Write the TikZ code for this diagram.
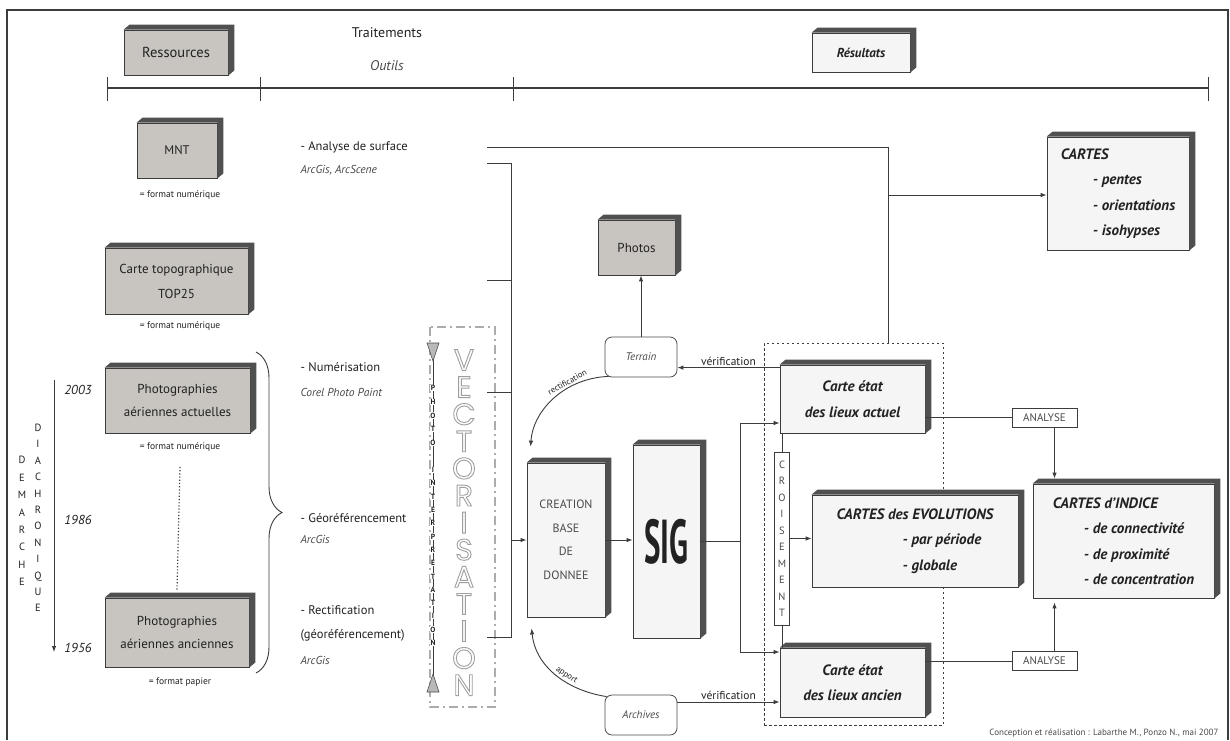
\documentclass[tikz,border=0pt]{standalone}
\usepackage{fontspec}
\usepackage{graphicx}
\setmainfont{PT Sans}
\newfontfamily\geofont{Poppins}
\usetikzlibrary{arrows.meta,decorations.pathreplacing}
\definecolor{boxgray}{HTML}{C8C4C0}
\definecolor{extr}{HTML}{505050}
\definecolor{boxwhite}{HTML}{F5F5F5}
\definecolor{linec}{HTML}{3C3C3C}
\definecolor{txt}{HTML}{222222}
\definecolor{soft}{HTML}{4A4A4A}
\newcommand{\extrude}[1]{\fill[extr] (#1.north west) -- ([shift={(6,-5)}]#1.north west) -- ([shift={(6,-5)}]#1.north east) -- ([shift={(6,-5)}]#1.south east) -- (#1.south east) -- (#1.north east) -- cycle;}
\newcommand{\outl}[1]{\special{pdf:literal direct 1 Tr 0.9 w}#1\special{pdf:literal direct 0 Tr}}
\tikzset{
  boxface/.style={draw=linec, line width=0.8pt, inner sep=0pt, align=center, text=txt},
  gbox/.style={boxface, fill=boxgray},
  wbox/.style={boxface, fill=boxwhite},
  ln/.style={draw=linec, line width=0.9pt},
  arr/.style={ln, -{Latex[length=6pt,width=4.5pt]}},
  rbox/.style={draw=soft, rounded corners=7pt, line width=0.8pt, fill=white, minimum width=72pt, minimum height=40pt, font=\fontsize{11}{13}\selectfont\itshape, text=soft},
  rtext/.style={font=\fontsize{15}{25.5}\selectfont\bfseries\itshape},
  fmt/.style={font=\fontsize{9.5}{11}\selectfont, text=txt},
  trt/.style={anchor=west, font=\fontsize{12.5}{14}\selectfont, text=txt},
  tool/.style={anchor=west, font=\fontsize{11.5}{14}\selectfont\itshape, text=soft},
  year/.style={font=\fontsize{13}{15}\selectfont\itshape, text=txt},
  lbl/.style={font=\fontsize{11.5}{13}\selectfont, text=txt, inner sep=1.5pt},
  smalllbl/.style={font=\fontsize{8.5}{9}\selectfont, text=txt, inner sep=0.5pt},
  stack/.style={align=center, inner sep=0pt, text=txt},
  anbox/.style={draw=linec, line width=0.7pt, fill=white, inner sep=1.5pt, minimum width=65pt, minimum height=19pt, font=\fontsize{11}{12}\selectfont, text=soft},
}
\begin{document}
\begin{tikzpicture}[x=1pt,y=-1pt]
\useasboundingbox (0,0) rectangle (1230,740);
\fill[white] (0,0) rectangle (1230,740);
% frame
\draw[linec, line width=1.5pt] (7,740) -- (7,10) -- (1228,10) -- (1228,740);

% header
\node[gbox, minimum width=104pt, minimum height=45pt, font=\fontsize{14.5}{16}\selectfont] (res) at (176,52.5) {Ressources};
\extrude{res}
\node[font=\fontsize{14}{16}\selectfont, text=txt] (trait) at (387,33) {Traitements};
\node[font=\fontsize{14}{16}\selectfont\itshape, text=soft] (outils) at (387,66) {Outils};
\node[wbox, minimum width=98pt, minimum height=39pt, font=\fontsize{13}{15}\selectfont\bfseries\itshape] (resul) at (861,52.5) {Résultats};
\extrude{resul}
\coordinate (t0) at (107,88); \coordinate (t1) at (260,88); \coordinate (t2) at (513,88); \coordinate (t3) at (1208,88);
\draw[ln, line width=1.3pt] (t0) -- (t3);
\foreach \t in {t0,t1,t2,t3} \draw[ln] ([shift={(0,-11)}]\t) -- ([shift={(0,13)}]\t);

% resources column
\node[gbox, minimum width=80pt, minimum height=55pt, font=\fontsize{12.5}{14}\selectfont] (mnt) at (177,150.5) {MNT};
\extrude{mnt}
\node[fmt] (f1) at (180,195) {= format numérique};
\node[gbox, minimum width=143pt, minimum height=66pt, font=\fontsize{13}{25}\selectfont] (top) at (176.5,281) {Carte topographique\\TOP25};
\extrude{top}
\node[fmt] (f2) at (180,326) {= format numérique};
\node[gbox, minimum width=145pt, minimum height=65pt, font=\fontsize{13}{23}\selectfont] (pact) at (177.5,400.5) {Photographies\\aériennes actuelles};
\extrude{pact}
\node[fmt] (f3) at (180,447) {= format numérique};
\node[gbox, minimum width=144pt, minimum height=69pt, font=\fontsize{13}{23}\selectfont] (panc) at (177,632.5) {Photographies\\aériennes anciennes};
\extrude{panc}
\node[fmt] (f4) at (180,682) {= format papier};
\draw[linec, line width=1.2pt, dotted] ([shift={(0,12)}]f3.south) -- ([shift={(0,-8)}]panc.north);
\draw[ln, decorate, decoration={brace, amplitude=26pt}] (256,352) -- (256,673);

% diachronic timeline
\coordinate (ya) at (54,380); \coordinate (yb) at (54,652);
\draw[arr] (ya) -- (yb);
\node[year] (y1) at (78,390) {2003};
\node[year] (y2) at (78,520) {1986};
\node[year] (y3) at (78,648) {1956};
\node[stack, font=\fontsize{10.5}{17.4}\selectfont] (dem) at (22,521) {D\\E\\M\\A\\R\\C\\H\\E};
\node[stack, font=\fontsize{10.5}{16.4}\selectfont] (dia) at (38,518) {D\\I\\A\\C\\H\\R\\O\\N\\I\\Q\\U\\E};

% treatments column
\node[trt] (m1) at (297,147) {- Analyse de surface};
\node[tool] (m1t) at (297,170) {ArcGis, ArcScene};
\node[trt] (m2) at (297,367) {- Numérisation};
\node[tool] (m2t) at (297,392) {Corel Photo Paint};
\node[trt] (m3) at (297,518) {- Géoréférencement};
\node[tool] (m3t) at (297,539) {ArcGis};
\node[trt] (m4) at (297,610) {- Rectification};
\node[trt] (m4b) at (297,635) {(géoréférencement)};
\node[tool] (m4t) at (297,660) {ArcGis};

% vectorisation
\draw[gray!65, line width=1.4pt, dash pattern=on 9pt off 4pt on 2pt off 4pt] (430,327) rectangle (495,707);
\foreach \l [count=\i from 0] in {V,E,C,T,O,R,I,S,A,T,I,O,N}
  \node[font=\geofont\fontsize{30}{30}\selectfont, text=gray!75, inner sep=0pt] (vec\i) at (464,{360+27.1*\i}) {\outl{\l}};
\coordinate (pit) at (433,352); \coordinate (pib) at (433,683);
\draw[ln, line width=0.8pt] (pit) -- (pib);
\filldraw[fill=gray!55, draw=soft, line width=0.6pt] (427,343) -- (439,343) -- (433,361) -- cycle;
\filldraw[fill=gray!55, draw=soft, line width=0.6pt] (427,692) -- (439,692) -- (433,674) -- cycle;
\foreach \l [count=\i from 0] in {P,H,O,T,O}
  \node[font=\fontsize{7.5}{8}\selectfont\bfseries, fill=white, inner sep=0.4pt, text=txt] (ph\i) at (433,{388+13.7*\i}) {\l};
\foreach \l [count=\i from 0] in {I,N,T,E,R,P,R,E,T,A,T,I,O,N}
  \node[font=\fontsize{7.5}{8}\selectfont\bfseries, fill=white, inner sep=0.4pt, text=txt] (in\i) at (433,{470+13.3*\i}) {\l};

% central
\node[gbox, minimum width=77pt, minimum height=55pt, font=\fontsize{13}{15}\selectfont] (photos) at (636.5,247.5) {Photos};
\extrude{photos}
\node[rbox] (terrain) at (641,357) {Terrain};
\node[wbox, minimum width=78pt, minimum height=154pt, font=\fontsize{12}{23.5}\selectfont, text=soft] (crea) at (566,540) {CREATION\\BASE\\DE\\DONNEE};
\extrude{crea}
\node[wbox, minimum width=67pt, minimum height=193pt] (sig) at (666.5,541.5) {\scalebox{0.5}[1]{\fontsize{62}{62}\selectfont\bfseries SIG}};
\extrude{sig}
\node[rbox] (arch) at (641,715) {Archives};

% results
\node[draw=linec, line width=1pt, dash pattern=on 2.5pt off 2.5pt, minimum width=179pt, minimum height=382pt, inner sep=0pt] (dbox) at (853.5,534) {};
\node[wbox, rtext, minimum width=145pt, minimum height=68pt] (act) at (852.5,399) {Carte état\\des lieux actuel};
\extrude{act}
\node[wbox, rtext, minimum width=145pt, minimum height=69pt] (anc) at (852.5,682.5) {Carte état\\des lieux ancien};
\extrude{anc}
\node[boxface, fill=white, minimum width=15pt, minimum height=173pt, font=\fontsize{10.5}{16.5}\selectfont, text=soft] (crois) at (782,538.5) {C\\R\\O\\I\\S\\E\\M\\E\\N\\T};
\node[wbox, rtext, minimum width=206pt, minimum height=92pt, align=left] (evol) at (915,541) {CARTES des EVOLUTIONS\\\hspace*{66pt}- par période\\\hspace*{66pt}- globale};
\extrude{evol}
\node[wbox, rtext, minimum width=181pt, minimum height=114pt, align=left] (ind) at (1123.5,541) {CARTES d'INDICE\\\hspace*{31pt}- de connectivité\\\hspace*{31pt}- de proximité\\\hspace*{31pt}- de concentration};
\extrude{ind}
\node[wbox, rtext, minimum width=142pt, minimum height=113pt, align=left] (cartes) at (1118,193.5) {CARTES\\\hspace*{32pt}- pentes\\\hspace*{32pt}- orientations\\\hspace*{32pt}- isohypses};
\extrude{cartes}
\node[anbox] (an1) at (1044.5,417.5) {ANALYSE};
\node[anbox] (an2) at (1044.5,661) {ANALYSE};

% connectors
\coordinate (sa) at (487,147); \coordinate (bend) at (888,147); \coordinate (dtop) at (888,343); \coordinate (cj) at (888,195);
\draw[ln] (sa) -- (bend) -- (dtop);
\draw[arr] (cj) -- (cj -| cartes.west);
\coordinate (b0) at (487,163); \coordinate (b1) at (511,163); \coordinate (b2) at (511,637); \coordinate (b3) at (487,637);
\draw[ln] (b0) -- (b1) -- (b2) -- (b3);
\coordinate (k1) at (487,280); \coordinate (k2) at (487,392);
\draw[ln] (k1) -- (k1 -| b1);
\draw[ln] (k2) -- (k2 -| b1);
\draw[arr] (crea.west -| b1) -- (crea.west);
\draw[arr] (crea.east) -- (crea.east -| sig.west);
\coordinate (jt) at (740,423); \coordinate (jb) at (740,652);
\draw[ln] (sig.east) -- (sig.east -| jt);
\draw[ln] (jt) -- (jb);
\draw[arr] (jt) -- (jt -| act.west);
\draw[arr] (jb) -- (jb -| anc.west);
\draw[arr] (terrain.north) -- (terrain.north |- photos.south);
\coordinate (v1) at ([shift={(0,3)}]act.north west);
\draw[arr] (v1) -- (v1 -| terrain.east) node[lbl, midway, above] {vérification};
\coordinate (v2) at ([shift={(0,-13)}]arch.east);
\draw[arr] (v2) -- (v2 -| anc.west) node[lbl, midway, above] {vérification};
\draw[arr] ([shift={(4,-1)}]terrain.south west) .. controls (565,378) and (533,410) .. ([shift={(4,-16)}]crea.north west) node[smalllbl, pos=0.33, sloped, above=1.5pt] {rectification};
\draw[arr] ([shift={(2,2)}]arch.north west) .. controls (565,690) and (535,665) .. ([shift={(5,11)}]crea.south west) node[smalllbl, pos=0.4, sloped, above=1.5pt] {apport};
\draw[ln] (an1.west -| act.east) -- (an1.west);
\draw[ln] (an2.west -| anc.east) -- (an2.west);
\draw[arr] ([shift={(10,0)}]an1.south) -- ([shift={(10,-5)}]an1.south |- ind.north);
\draw[arr] ([shift={(10,0)}]an2.north) -- ([shift={(10,4)}]an2.north |- ind.south);
\draw[ln] (crois.north) -- (crois.north |- act.south);
\draw[ln] (crois.south) -- (crois.south |- anc.north);
\draw[arr] (crois.east) -- (crois.east -| evol.west);

\node[font=\fontsize{9}{10}\selectfont, text=soft, anchor=east] (credit) at (1222,733) {Conception et réalisation : Labarthe M., Ponzo N., mai 2007};
\end{tikzpicture}
\end{document}
